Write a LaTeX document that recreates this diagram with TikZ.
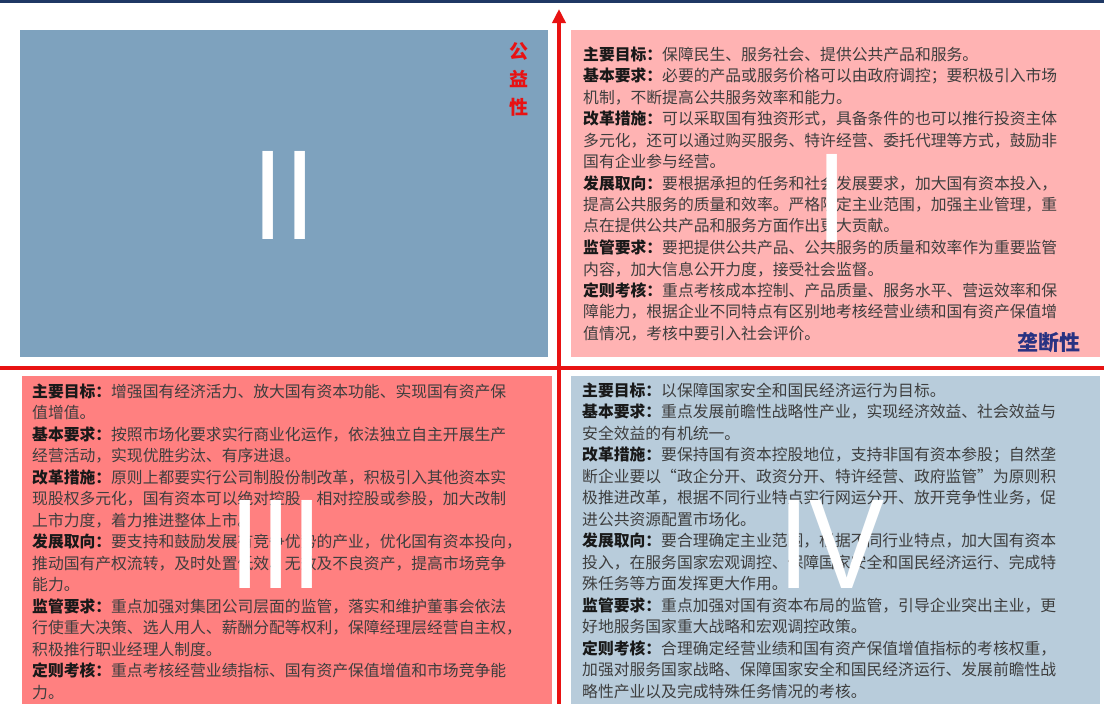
\documentclass[tikz,border=0pt]{standalone}
\usepackage{graphicx}
\usepackage{fontspec}
\setmainfont{Noto Sans CJK SC}
\newfontfamily\numfont{Liberation Sans}
\usetikzlibrary{arrows.meta}
\definecolor{qone}{RGB}{255,179,179}
\definecolor{qtwo}{RGB}{126,162,190}
\definecolor{qthree}{RGB}{255,128,128}
\definecolor{qfour}{RGB}{184,204,219}
\definecolor{axisred}{RGB}{232,18,18}
\definecolor{topnavy}{RGB}{31,56,100}
\definecolor{bodytext}{RGB}{62,62,62}
\definecolor{labeltext}{RGB}{25,25,25}
\definecolor{monoblue}{RGB}{40,50,130}
\newcommand{\lbl}[1]{{\bfseries\color{labeltext}#1}}
\begin{document}
\begin{tikzpicture}[x=1pt,y=-1pt,
  quad/.style={draw=none,inner sep=0,outer sep=0,anchor=north west},
  body/.style={anchor=base west,inner sep=0,text width=530pt,align=left,
    font=\fontsize{15.8}{21.5}\selectfont,text=bodytext},
  numeral/.style={inner sep=0,text=white,font=\numfont\fontsize{128}{128}\selectfont},
  axisline/.style={draw=axisred,line width=3.5pt}]
\useasboundingbox[fill=white] (0,0) rectangle (1104,704);

% top border
\coordinate (tl) at (0,1.5);
\coordinate (tr) at (1104,1.5);
\draw[topnavy,line width=3pt] (tl) -- (tr);

% quadrants
\node[quad,fill=qtwo,minimum width=528pt,minimum height=327pt] (q2) at (20,30) {};
\node[quad,fill=qone,minimum width=529pt,minimum height=327pt] (q1) at (571,30) {};
\node[quad,fill=qthree,minimum width=530pt,minimum height=328pt] (q3) at (22,376) {};
\node[quad,fill=qfour,minimum width=529pt,minimum height=328pt] (q4) at (571,376) {};

% axes
\coordinate (xl) at (0,368);
\coordinate (xr) at (1104,368);
\draw[axisline] (xl) -- (xr);
\coordinate (ybot) at (559,704);
\coordinate (ytop) at (559,9);
\draw[axisline,-{Triangle[width=13pt,length=14pt]}] (ybot) -- (ytop);

% quadrant I text
\node[body] (t1) at (583,60) {\lbl{主要目标：}保障民生、服务社会、提供公共产品和服务。\\
\lbl{基本要求：}必要的产品或服务价格可以由政府调控；要积极引入市场\\
机制，不断提高公共服务效率和能力。\\
\lbl{改革措施：}可以采取国有独资形式，具备条件的也可以推行投资主体\\
多元化，还可以通过购买服务、特许经营、委托代理等方式，鼓励非\\
国有企业参与经营。\\
\lbl{发展取向：}要根据承担的任务和社会发展要求，加大国有资本投入，\\
提高公共服务的质量和效率。严格限定主业范围，加强主业管理，重\\
点在提供公共产品和服务方面作出更大贡献。\\
\lbl{监管要求：}要把提供公共产品、公共服务的质量和效率作为重要监管\\
内容，加大信息公开力度，接受社会监督。\\
\lbl{定则考核：}重点考核成本控制、产品质量、服务水平、营运效率和保\\
障能力，根据企业不同特点有区别地考核经营业绩和国有资产保值增\\
值情况，考核中要引入社会评价。};

% quadrant III text
\node[body] (t3) at (32,397) {\lbl{主要目标：}增强国有经济活力、放大国有资本功能、实现国有资产保\\
值增值。\\
\lbl{基本要求：}按照市场化要求实行商业化运作，依法独立自主开展生产\\
经营活动，实现优胜劣汰、有序进退。\\
\lbl{改革措施：}原则上都要实行公司制股份制改革，积极引入其他资本实\\
现股权多元化，国有资本可以绝对控股、相对控股或参股，加大改制\\
上市力度，着力推进整体上市。\\
\lbl{发展取向：}要支持和鼓励发展有竞争优势的产业，优化国有资本投向，\\
推动国有产权流转，及时处置低效、无效及不良资产，提高市场竞争\\
能力。\\
\lbl{监管要求：}重点加强对集团公司层面的监管，落实和维护董事会依法\\
行使重大决策、选人用人、薪酬分配等权利，保障经理层经营自主权，\\
积极推行职业经理人制度。\\
\lbl{定则考核：}重点考核经营业绩指标、国有资产保值增值和市场竞争能\\
力。};

% quadrant IV text
\node[body] (t4) at (582,396) {\lbl{主要目标：}以保障国家安全和国民经济运行为目标。\\
\lbl{基本要求：}重点发展前瞻性战略性产业，实现经济效益、社会效益与\\
安全效益的有机统一。\\
\lbl{改革措施：}要保持国有资本控股地位，支持非国有资本参股；自然垄\\
断企业要以“政企分开、政资分开、特许经营、政府监管”为原则积\\
极推进改革，根据不同行业特点实行网运分开、放开竞争性业务，促\\
进公共资源配置市场化。\\
\lbl{发展取向：}要合理确定主业范围，根据不同行业特点，加大国有资本\\
投入，在服务国家宏观调控、保障国家安全和国民经济运行、完成特\\
殊任务等方面发挥更大作用。\\
\lbl{监管要求：}重点加强对国有资本布局的监管，引导企业突出主业，更\\
好地服务国家重大战略和宏观调控政策。\\
\lbl{定则考核：}合理确定经营业绩和国有资产保值增值指标的考核权重，\\
加强对服务国家战略、保障国家安全和国民经济运行、发展前瞻性战\\
略性产业以及完成特殊任务情况的考核。};

% roman numerals
\node[numeral] (n2) at (284,195) {\scalebox{0.88}[1]{II}};
\node[numeral] (n1) at (832.5,198.5) {\scalebox{0.88}[1]{I}};
\node[numeral] (n3) at (276,544) {\scalebox{0.88}[1]{III}};
\node[numeral] (n4) at (831.5,544) {\scalebox{0.88}[1]{IV}};

% axis labels
\node[inner sep=0,text=axisred,font=\bfseries\fontsize{19}{27.7}\selectfont,
  text width=24pt,align=center,anchor=base] (pub) at (519,58.7) {公\\益\\性};
\node[inner sep=0,text=monoblue,font=\bfseries\fontsize{21}{21}\selectfont] (mono) at (1049,343) {垄断性};
\end{tikzpicture}
\end{document}
